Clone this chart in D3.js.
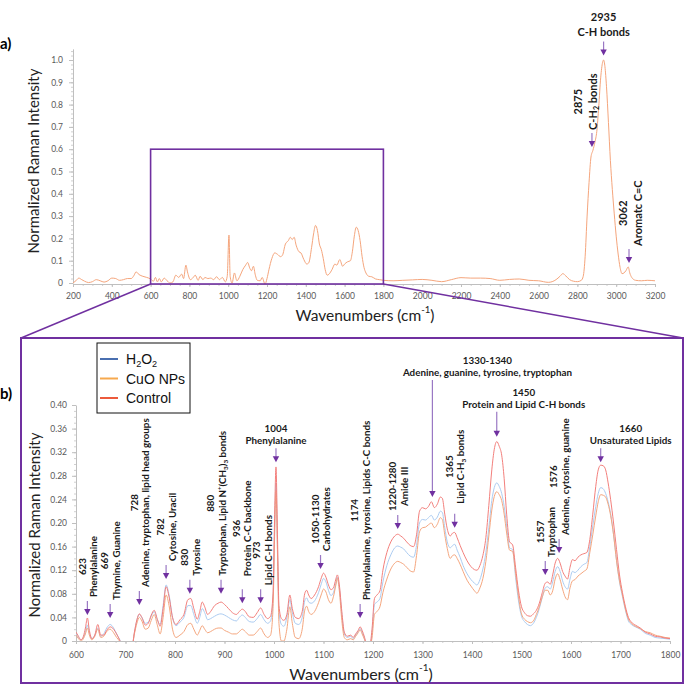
<!DOCTYPE html>
<html><head><meta charset="utf-8">
<script src="https://cdn.jsdelivr.net/npm/d3@7/dist/d3.min.js"></script>
<style>body{margin:0;background:#fff}</style>
</head><body><svg id="c" width="685" height="685"></svg>
<script>
// ---------- DATA ----------
// panel a) full spectrum (CuO NPs curve, normalized to 2935 peak)
const topWn=[200,215,230,245,260,280,300,320,340,360,380,400,420,440,460,480,500,515,525,540,560,580,600,615,625,635,645,655,670,685,700,715,730,745,760,770,782,790,805,820,830,845,855,870,880,895,910,925,940,955,970,985,995,1004,1010,1020,1032,1045,1060,1075,1090,1100,1112,1120,1130,1140,1150,1165,1175,1190,1200,1210,1225,1240,1255,1270,1280,1295,1310,1320,1330,1340,1350,1365,1375,1390,1405,1415,1430,1440,1450,1460,1470,1480,1490,1500,1510,1520,1535,1550,1560,1575,1590,1600,1615,1630,1640,1650,1660,1670,1680,1690,1700,1710,1725,1740,1760,1780,1800,1850,1900,1950,2000,2050,2100,2150,2200,2250,2300,2350,2400,2450,2500,2550,2600,2650,2690,2710,2725,2740,2760,2780,2800,2820,2830,2840,2850,2860,2870,2880,2890,2900,2910,2920,2930,2935,2942,2950,2960,2970,2980,2990,3000,3010,3020,3030,3040,3050,3062,3070,3080,3100,3130,3160,3200];
const topVal=[0.000,0.010,0.022,0.015,0.008,0.002,0.006,0.015,0.010,0.004,0.010,0.022,0.020,0.012,0.015,0.020,0.020,0.035,0.050,0.038,0.030,0.025,0.018,0.008,0.025,0.005,0.020,0.005,0.022,0.010,0.000,0.005,0.035,0.025,0.040,0.020,0.080,0.050,0.015,0.025,0.035,0.012,0.030,0.015,0.025,0.020,0.022,0.015,0.028,0.015,0.025,0.005,0.030,0.215,0.030,0.000,0.045,0.010,0.030,0.060,0.080,0.092,0.065,0.055,0.075,0.035,0.012,0.010,0.025,-0.005,0.020,0.060,0.110,0.135,0.128,0.118,0.125,0.175,0.190,0.205,0.195,0.205,0.170,0.140,0.135,0.105,0.085,0.090,0.160,0.220,0.258,0.235,0.175,0.150,0.110,0.060,0.035,0.040,0.060,0.085,0.080,0.105,0.075,0.085,0.095,0.100,0.140,0.210,0.250,0.235,0.190,0.120,0.070,0.045,0.030,0.028,0.018,0.015,0.012,0.010,0.012,0.014,0.016,0.012,0.006,0.015,0.024,0.022,0.022,0.020,0.012,0.016,0.018,0.012,0.010,0.003,0.015,0.030,0.042,0.032,0.015,0.008,0.006,0.012,0.030,0.120,0.300,0.450,0.565,0.595,0.630,0.680,0.790,0.920,0.990,1.000,0.970,0.880,0.720,0.550,0.420,0.310,0.210,0.130,0.070,0.042,0.045,0.055,0.072,0.045,0.025,0.012,0.010,0.012,0.010];

// panel b) fingerprint region, three series
const wn=[600,605,610,615,619,623,627,632,638,644,650,656,662,669,676,682,688,695,705,713,718,723,728,733,740,746,752,758,764,770,776,782,788,795,802,810,818,826,832,838,845,850,855,860,866,872,880,887,893,900,908,916,924,930,936,942,950,958,966,973,980,987,993,998,1001,1004,1007,1010,1015,1020,1026,1032,1037,1043,1050,1057,1062,1066,1070,1075,1082,1090,1096,1100,1105,1110,1115,1120,1125,1128,1132,1137,1142,1148,1155,1160,1165,1170,1174,1178,1183,1188,1193,1198,1203,1208,1214,1220,1228,1236,1244,1250,1256,1262,1268,1275,1282,1288,1294,1300,1306,1312,1318,1324,1330,1336,1340,1345,1350,1356,1361,1365,1370,1376,1382,1390,1398,1405,1410,1416,1422,1428,1434,1440,1445,1450,1455,1460,1465,1470,1476,1482,1488,1494,1500,1506,1512,1518,1524,1530,1536,1542,1548,1553,1558,1563,1568,1573,1578,1583,1588,1593,1598,1603,1608,1614,1620,1626,1632,1638,1644,1650,1655,1660,1665,1670,1675,1680,1686,1692,1698,1704,1710,1716,1722,1730,1740,1750,1760,1770,1780,1790,1800];
const control=[.015,.008,.002,.008,.022,.039,.018,.004,.010,.028,.010,.010,.018,.024,.020,.012,.002,-.01,-.01,-.01,.015,.036,.046,.040,.027,.030,.044,.052,.038,.025,.055,.092,.075,.040,.028,.036,.045,.070,.072,.055,.037,.050,.066,.058,.045,.050,.060,.064,.066,.062,.055,.048,.045,.050,.054,.050,.041,.040,.048,.056,.045,.038,.042,.080,.200,.295,.180,.060,.038,.035,.045,.078,.055,.040,.038,.050,.080,.086,.078,.072,.078,.092,.108,.115,.108,.095,.087,.090,.105,.112,.095,.050,.015,.008,.010,.006,.012,.018,.024,.018,.006,-.01,-.01,.020,.072,.078,.085,.120,.150,.168,.178,.181,.178,.174,.168,.162,.160,.180,.220,.226,.224,.228,.236,.226,.232,.244,.242,.215,.190,.178,.183,.184,.175,.162,.150,.136,.126,.121,.120,.128,.145,.175,.230,.290,.325,.338,.330,.315,.275,.215,.168,.163,.125,.085,.058,.048,.043,.042,.046,.052,.064,.082,.098,.100,.096,.112,.132,.140,.132,.118,.110,.105,.125,.138,.136,.142,.146,.148,.150,.172,.215,.262,.290,.298,.297,.290,.268,.240,.200,.155,.112,.082,.058,.040,.032,.027,.022,.015,.012,.008,.007,.005,.004];
const h2o2=[.012,.006,.002,.006,.015,.027,.014,.004,.010,.022,.008,.012,.022,.028,.022,.012,.003,-.01,-.01,-.01,.014,.035,.045,.040,.030,.032,.042,.050,.036,.028,.060,.095,.078,.040,.026,.032,.040,.060,.060,.045,.030,.040,.055,.048,.036,.038,.042,.045,.046,.044,.040,.036,.034,.040,.044,.040,.033,.032,.038,.045,.036,.030,.034,.070,.180,.268,.160,.050,.028,.025,.040,.070,.048,.030,.028,.040,.068,.073,.066,.064,.068,.082,.098,.106,.100,.086,.077,.082,.098,.108,.090,.045,.012,.006,.008,.004,.010,.016,.021,.015,.004,-.01,-.01,.012,.062,.066,.072,.100,.128,.146,.158,.161,.159,.156,.150,.144,.142,.162,.200,.206,.205,.209,.213,.205,.210,.220,.218,.192,.168,.158,.162,.164,.154,.142,.128,.114,.104,.098,.095,.104,.122,.150,.192,.238,.260,.268,.262,.250,.228,.195,.158,.155,.108,.068,.042,.033,.028,.026,.030,.040,.055,.074,.090,.092,.088,.100,.118,.126,.118,.102,.092,.088,.105,.118,.116,.120,.126,.130,.133,.160,.195,.228,.250,.260,.258,.250,.236,.216,.180,.136,.100,.075,.052,.034,.028,.024,.020,.013,.010,.006,.005,.004,.003];
const cuo=[.010,.004,.000,.004,.012,.022,.010,.002,.008,.020,.006,.008,.016,.020,.014,.006,.000,-.01,-.01,-.01,.012,.030,.040,.034,.020,.022,.035,.045,.028,.012,.040,.078,.060,.020,.006,.010,.016,.028,.030,.020,.010,.018,.026,.020,.014,.016,.020,.022,.022,.018,.015,.012,.012,.016,.020,.016,.010,.010,.016,.022,.012,.006,.010,.055,.170,.255,.150,.030,.000,.000,.020,.058,.030,.006,.004,.020,.052,.059,.050,.045,.050,.065,.080,.088,.083,.070,.064,.075,.095,.106,.085,.035,.006,.002,.004,.002,.008,.014,.019,.012,.002,-.01,-.01,.005,.045,.050,.058,.082,.105,.122,.132,.135,.133,.130,.125,.119,.117,.145,.185,.192,.193,.197,.200,.192,.198,.209,.206,.180,.157,.140,.145,.146,.140,.130,.118,.103,.093,.085,.081,.090,.106,.135,.178,.222,.245,.253,.248,.238,.215,.183,.154,.152,.115,.075,.046,.037,.033,.031,.034,.045,.058,.075,.086,.086,.078,.085,.105,.114,.104,.088,.075,.070,.090,.102,.104,.110,.114,.118,.122,.150,.180,.212,.236,.248,.247,.244,.232,.213,.180,.136,.102,.078,.054,.037,.030,.025,.021,.016,.014,.010,.008,.006,.005];

const seriesNames=["H_{2}O_{2}","CuO NPs","Control"];
const topXTicks=[200,400,600,800,1000,1200,1400,1600,1800,2000,2200,2400,2600,2800,3000,3200];
const topYTicks=[0,0.1,0.2,0.3,0.4,0.5,0.6,0.7,0.8,0.9,1.0];
const botXTicks=[600,700,800,900,1000,1100,1200,1300,1400,1500,1600,1700,1800];
const botYTicks=[0,0.04,0.08,0.12,0.16,0.20,0.24,0.28,0.32,0.36,0.40];

// annotations panel a)
const topAnnWn=[2875,2935,3066];
const topAnnTip=[0.61,1.02,0.09];
const topAnnNum=["2875","2935","3062"];
const topAnnName=["C-H_{2} bonds","C-H bonds","Aromatc C=C"];
// annotations panel b)
const annWn=[623,669,728,782,830,893,936,973,1004,1094,1174,1250,1320,1365,1450,1548,1576,1660];
const annTip=[0.044,0.039,0.061,0.105,0.080,0.080,0.064,0.064,0.303,0.122,0.039,0.190,0.244,0.192,0.346,0.112,0.149,0.303];
const annNum=["623","669","728","782","830","880","936","973","1004","1050-1130","1174","1220-1280","1330-1340","1365","1450","1557","1576","1660"];
const annName=["Phenylalanine","Thymine, Guanine","Adenine, tryptophan, lipid head groups","Cytosine, Uracil","Tyrosine","Tryptophan, Lipid N^{+}(CH_{3})_{3} bonds","Protein C-C backbone","Lipid C-H bonds","Phenylalanine","Carbohydrates","Phenylalanine, tyrosine, Lipids C-C bonds","Amide III","Adenine, guanine, tyrosine, tryptophan","Lipid C-H_{3} bonds","Protein and Lipid C-H bonds","Tryptophan","Adenine, cytosine, guanine","Unsaturated Lipids"];

// ---------- STYLE / LAYOUT ----------
const PURPLE="#7030a0";
const legendColors=["#4a6fb0","#f6a94e","#ec5a3c"];
const lineColors=["#acccf2","#f5a67e","#f37f7c"];
const FONT="Lato, 'Open Sans', sans-serif";
const horizontal=new Set(["1004","1330-1340","1450","1660","2935"]);
const labelShift={"1330-1340":55,"1450":27,"1660":30,"2875":-7,"880":-5,"936":-1,"973":1.5};
const arrowLen={"1330-1340":117,"1450":25};
const extraGap={"936":9,"1365":6};

const svg=d3.select("#c");

function rich(sel,str){
  const parts=str.split(/(_\{[^}]*\}|\^\{[^}]*\})/g).filter(s=>s.length);
  parts.forEach(p=>{
    if(p.startsWith("_{")) sel.append("tspan").attr("baseline-shift","sub").attr("font-size","65%").text(p.slice(2,-1));
    else if(p.startsWith("^{")) sel.append("tspan").attr("baseline-shift","super").attr("font-size","62%").text(p.slice(2,-1));
    else sel.append("tspan").text(p);
  });
  return sel;
}
const fmtInt=d3.format("d");

// ---------- PANEL A ----------
const tx=d3.scaleLinear().domain([200,3200]).range([73,655]);
const ty=d3.scaleLinear().domain([0,1.05]).range([283,48.85]);

function styleAxis(g,fs){
  g.select(".domain").attr("stroke","#bfbfbf");
  g.selectAll(".tick line").attr("stroke","#bfbfbf");
  g.selectAll("text").attr("fill","#595959").attr("font-family",FONT).attr("font-size",fs);
}
svg.append("g").attr("transform","translate(73,0)")
  .call(d3.axisLeft(ty).ticks(52).tickSize(2).tickFormat("").tickSizeOuter(0))
  .call(g=>{g.select(".domain").remove();g.selectAll("line").attr("stroke","#d0d0d0");});
svg.append("g").attr("transform","translate(73,0)")
  .call(d3.axisLeft(ty).tickValues(topYTicks).tickFormat(d=>d===0?"0":d3.format(".1f")(d)).tickSize(4).tickPadding(6).tickSizeOuter(0))
  .call(g=>styleAxis(g,8.5));
svg.append("g").attr("transform","translate(0,284)")
  .call(d3.axisBottom(tx).ticks(60).tickSize(2).tickFormat("").tickSizeOuter(0))
  .call(g=>{g.select(".domain").remove();g.selectAll("line").attr("stroke","#d0d0d0");});
svg.append("g").attr("transform","translate(0,284)")
  .call(d3.axisBottom(tx).tickValues(topXTicks).tickFormat(fmtInt).tickSize(3).tickPadding(6).tickSizeOuter(0))
  .call(g=>styleAxis(g,8.5));

const topLine=d3.line().x((d,i)=>tx(topWn[i])).y(d=>ty(d)).curve(d3.curveMonotoneX);
svg.append("path").attr("d",topLine(topVal)).attr("fill","none").attr("stroke","#f5a57c").attr("stroke-width",1);

svg.append("text").attr("x",0).attr("y",43).attr("font-family",FONT).attr("font-weight","bold").attr("font-size",15).attr("dominant-baseline","central").text("a)");
svg.append("text").attr("transform","translate(33,161) rotate(-90)").attr("text-anchor","middle").attr("dominant-baseline","central")
  .attr("font-family",FONT).attr("font-size",15).attr("fill","#222").text("Normalized Raman Intensity");
svg.append("text").attr("x",365).attr("y",315).attr("text-anchor","middle").attr("dominant-baseline","central")
  .attr("font-family",FONT).attr("font-size",15.5).attr("fill","#222").call(s=>rich(s,"Wavenumbers (cm^{-1})"));

// zoom box & connectors
const bx0=tx(600),bx1=tx(1800),by0=ty(0.6),by1=284;
svg.append("rect").attr("x",bx0).attr("y",by0).attr("width",bx1-bx0).attr("height",by1-by0).attr("fill","none").attr("stroke",PURPLE).attr("stroke-width",1.6);
const B={x0:21,y0:338,x1:683,y1:683};
svg.append("line").attr("x1",bx0).attr("y1",by1).attr("x2",B.x0).attr("y2",B.y0).attr("stroke",PURPLE).attr("stroke-width",1.4);
svg.append("line").attr("x1",bx1).attr("y1",by1).attr("x2",B.x1).attr("y2",B.y0).attr("stroke",PURPLE).attr("stroke-width",1.4);
svg.append("rect").attr("x",B.x0).attr("y",B.y0).attr("width",B.x1-B.x0).attr("height",B.y1-B.y0).attr("fill","none").attr("stroke",PURPLE).attr("stroke-width",2);

// ---------- ANNOTATIONS ----------
function drawAnn(xs,ys,wns,tips,nums,names,opt){
  wns.forEach((w,i)=>{
    const key=nums[i];
    const ax=xs(w), tipY=ys(tips[i]);
    const len=arrowLen[key]||opt.len;
    const topY=tipY-len;
    svg.append("line").attr("x1",ax).attr("x2",ax).attr("y1",topY).attr("y2",tipY-5).attr("stroke","#9a78c4").attr("stroke-width",1.2);
    svg.append("path").attr("d",`M${ax-3.2},${tipY-6}L${ax+3.2},${tipY-6}L${ax},${tipY}Z`).attr("fill",PURPLE);
    const cx=ax+(labelShift[key]||0);
    if(horizontal.has(key)){
      const y2=topY-opt.hgap, y1=y2-opt.sp;
      [[y1,nums[i]],[y2,names[i]]].forEach(([yy,t])=>{
        svg.append("text").attr("x",cx).attr("y",yy).attr("text-anchor","middle").attr("dominant-baseline","central")
          .attr("font-family",FONT).attr("font-weight","bold").attr("font-size",opt.fs).attr("fill","#1a1a1a").call(s=>rich(s,t));
      });
    } else {
      const g=svg.append("g");
      const t1=g.append("text").attr("x",0).attr("y",-opt.vsp/2).call(s=>rich(s,nums[i]));
      const t2=g.append("text").attr("x",0).attr("y",opt.vsp/2).call(s=>rich(s,names[i]));
      g.selectAll("text").attr("text-anchor","middle").attr("dominant-baseline","central")
        .attr("font-family",FONT).attr("font-weight","bold").attr("font-size",opt.fs).attr("fill","#1a1a1a");
      const L=Math.max(t1.node().getComputedTextLength(),t2.node().getComputedTextLength());
      const cy=topY-opt.vgap-(extraGap[key]||0)-L/2;
      g.attr("transform",`translate(${cx},${cy}) rotate(-90)`);
    }
  });
}
drawAnn(tx,ty,topAnnWn,topAnnTip,topAnnNum,topAnnName,{len:14,fs:11,sp:15,vsp:15,hgap:11,vgap:3});

// ---------- PANEL B ----------
const x=d3.scaleLinear().domain([600,1800]).range([76,670]);
const y=d3.scaleLinear().domain([0,0.4]).range([641,405]);

svg.append("g").attr("transform","translate(76,0)")
  .call(d3.axisLeft(y).ticks(40).tickSize(2).tickFormat("").tickSizeOuter(0))
  .call(g=>{g.select(".domain").remove();g.selectAll("line").attr("stroke","#d0d0d0");});
svg.append("g").attr("transform","translate(76,0)")
  .call(d3.axisLeft(y).tickValues(botYTicks).tickFormat(d=>d===0?"0":d3.format(".2f")(d)).tickSize(4).tickPadding(5).tickSizeOuter(0))
  .call(g=>styleAxis(g,8.5));
svg.append("g").attr("transform","translate(0,641)")
  .call(d3.axisBottom(x).ticks(60).tickSize(2).tickFormat("").tickSizeOuter(0))
  .call(g=>{g.select(".domain").remove();g.selectAll("line").attr("stroke","#d0d0d0");});
svg.append("g").attr("transform","translate(0,641)")
  .call(d3.axisBottom(x).tickValues(botXTicks).tickFormat(fmtInt).tickSize(3).tickPadding(8).tickSizeOuter(0))
  .call(g=>styleAxis(g,8.5));

svg.append("defs").append("clipPath").attr("id","clipB").append("rect").attr("x",76).attr("y",395).attr("width",600).attr("height",246);
const ln=d3.line().x((d,i)=>x(wn[i])).y(d=>y(d)).curve(d3.curveMonotoneX);
const plotG=svg.append("g").attr("clip-path","url(#clipB)");
[h2o2,cuo,control].forEach((s,k)=>{
  plotG.append("path").attr("d",ln(s)).attr("fill","none").attr("stroke",lineColors[k]).attr("stroke-width",1);
});

drawAnn(x,y,annWn,annTip,annNum,annName,{len:14,fs:9.8,sp:12,vsp:11.5,hgap:8,vgap:4});

svg.append("text").attr("x",0).attr("y",393).attr("font-family",FONT).attr("font-weight","bold").attr("font-size",15).attr("dominant-baseline","central").text("b)");
svg.append("text").attr("transform","translate(34,525) rotate(-90)").attr("text-anchor","middle").attr("dominant-baseline","central")
  .attr("font-family",FONT).attr("font-size",15).attr("fill","#222").text("Normalized Raman Intensity");
svg.append("text").attr("x",361).attr("y",673).attr("text-anchor","middle").attr("dominant-baseline","central")
  .attr("font-family",FONT).attr("font-size",16).attr("fill","#222").call(s=>rich(s,"Wavenumbers (cm^{-1})"));

// legend
const lg=svg.append("g");
lg.append("rect").attr("x",97).attr("y",343).attr("width",93).attr("height",70).attr("fill","#fff").attr("stroke","#111").attr("stroke-width",1);
seriesNames.forEach((n,i)=>{
  const yy=359+i*19.5;
  lg.append("line").attr("x1",100).attr("x2",118).attr("y1",yy).attr("y2",yy).attr("stroke",legendColors[i]).attr("stroke-width",2);
  lg.append("text").attr("x",126).attr("y",yy).attr("dominant-baseline","central").attr("font-family","'Liberation Sans', Arial, sans-serif")
    .attr("font-size",14).attr("fill","#111").call(s=>rich(s,n));
});
</script></body></html>
